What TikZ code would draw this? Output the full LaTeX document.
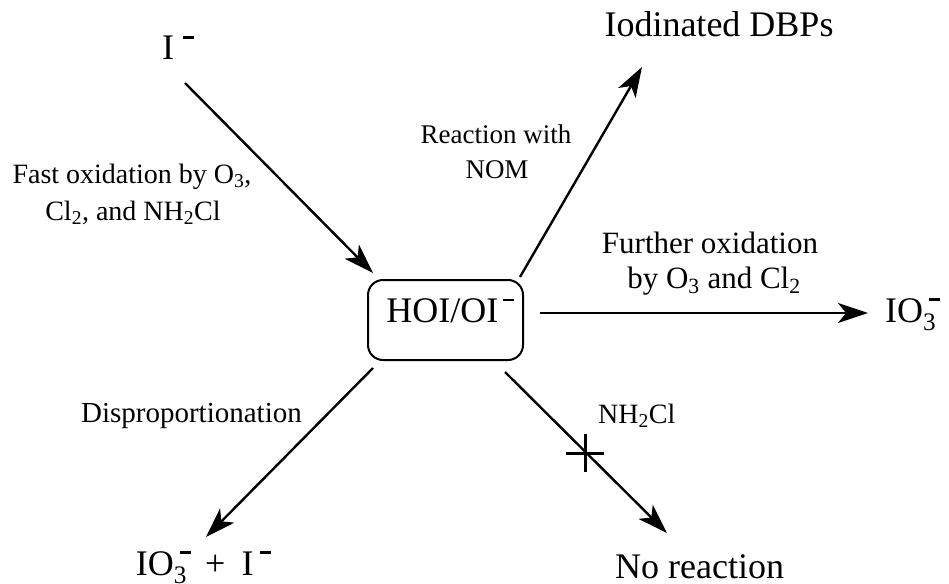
\documentclass[tikz,border=0pt]{standalone}
\usepackage{fontspec}
\setmainfont{Liberation Serif}
\usetikzlibrary{arrows.meta}
\newcommand{\supmin}{\raisebox{0.58em}{\rule{0.3em}{0.075em}}}
\begin{document}
\begin{tikzpicture}[x=1pt,y=-1pt,
  big/.style={font=\fontsize{36}{40}\selectfont, inner sep=0pt},
  lbl/.style={font=\fontsize{28}{32}\selectfont, inner sep=0pt},
  arr/.style={line width=2.4pt, -{Stealth[length=30pt,width=20pt,inset=8pt]}},
  boxstyle/.style={draw, line width=2pt, rounded corners=15pt, minimum width=155pt,
    minimum height=80pt, inner sep=0pt, text height=0.66em, text depth=0.2em,
    font=\fontsize{36}{40}\selectfont},
  crossline/.style={line width=3pt}
]
\useasboundingbox (0,0) rectangle (949,583);

% main nodes
\node[boxstyle] (hoi) at (445.5,320) {\hspace{9pt}HOI/OI\hspace{0.12em}\supmin};
\node[big, anchor=base west] (iminus) at (162,60) {I\hspace{0.25em}\supmin};
\node[big, anchor=base] (dbp) at (719,37) {Iodinated DBPs};
\node[big, anchor=base west] (io3r) at (885,322) {IO\textsubscript{3}\kern-0.2em\supmin};
\node[big, anchor=base west] (noreac) at (615,578) {No reaction};
\node[big, anchor=base east] (prod) at (271,575) {IO\textsubscript{3}\kern-0.2em\supmin\hspace{0.4em}+\hspace{0.45em}I\hspace{0.18em}\supmin};

% arrow end points
\coordinate (a1s) at (185,83);   \coordinate (a1e) at (373,273);
\coordinate (a2s) at (520,277);  \coordinate (a2e) at (642,67);
\coordinate (a3s) at (540,313);  \coordinate (a3e) at (868,313);
\coordinate (a4s) at (373,368);  \coordinate (a4e) at (206,537);
\coordinate (a5s) at (505,372);  \coordinate (a5e) at (667,533);
\coordinate (cx) at (585,453);

\draw[arr] (a1s) -- (a1e);
\draw[arr] (a2s) -- (a2e);
\draw[arr] (a3s) -- (a3e);
\draw[arr] (a4s) -- (a4e);
\draw[arr] (a5s) -- (a5e);

% cross (blocked)
\draw[crossline] ([xshift=-19pt]cx) -- ([xshift=19pt]cx);
\draw[crossline] ([yshift=-19pt]cx) -- ([yshift=19pt]cx);

% labels
\node[lbl, anchor=base] (fast1) at (132,183) {Fast oxidation by O\textsubscript{3},};
\node[lbl, anchor=base] (fast2) at (133,220) {Cl\textsubscript{2}, and NH\textsubscript{2}Cl};
\node[lbl, font=\fontsize{27}{30}\selectfont, anchor=base] (reac1) at (496,143) {Reaction with};
\node[lbl, font=\fontsize{27}{30}\selectfont, anchor=base] (reac2) at (497,178) {NOM};
\node[lbl, font=\fontsize{31}{34}\selectfont, anchor=base] (fur1) at (710,253) {Further oxidation};
\node[lbl, font=\fontsize{31}{34}\selectfont, anchor=base] (fur2) at (714,288) {by O\textsubscript{3} and Cl\textsubscript{2}};
\node[lbl, font=\fontsize{29}{32}\selectfont, anchor=base east] (disp) at (302,422) {Disproportionation};
\node[lbl, anchor=base west] (nh) at (598,423) {NH\textsubscript{2}Cl};
\end{tikzpicture}
\end{document}
